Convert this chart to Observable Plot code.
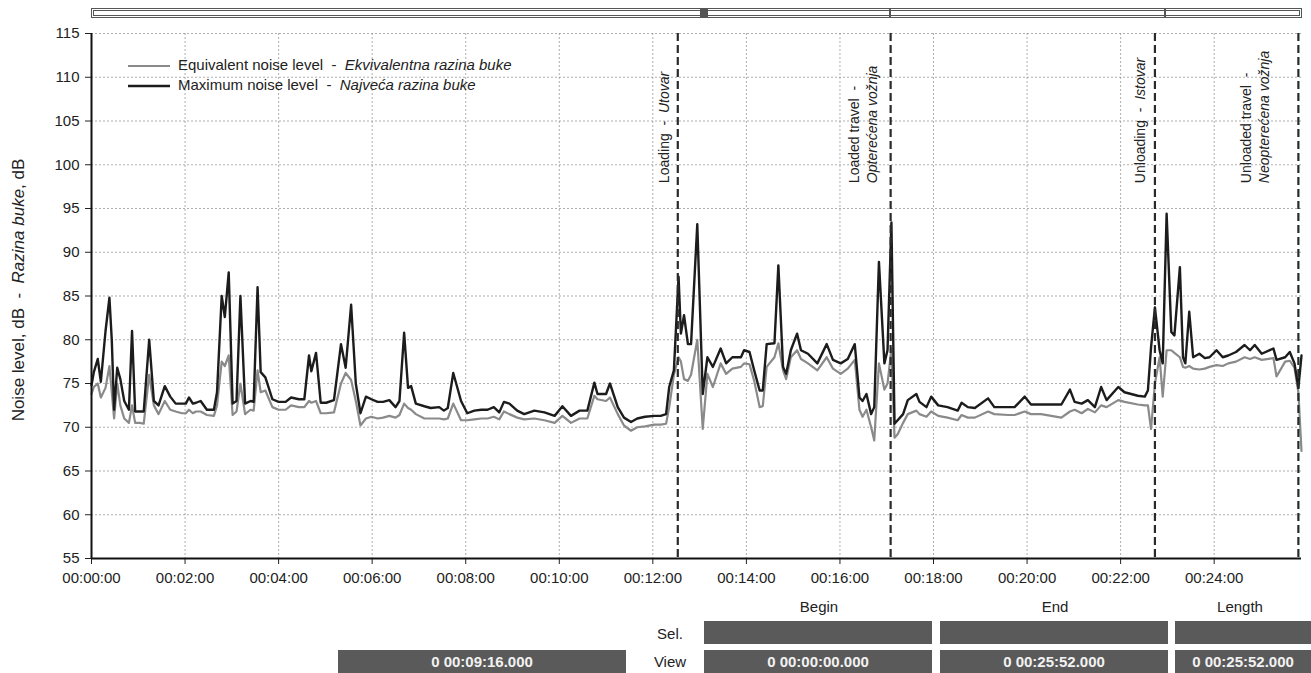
<!DOCTYPE html>
<html>
<head>
<meta charset="utf-8">
<script src="https://cdn.jsdelivr.net/npm/d3@7"></script>
<script src="https://cdn.jsdelivr.net/npm/@observablehq/plot@0.6"></script>
<style>
  body { margin: 0; background: #fff; }
  #wrap { position: relative; width: 1311px; height: 673px; overflow: hidden; background: #fff;
          font-family: "Liberation Sans Narrow", "Liberation Sans", Arial, sans-serif; color: #222; }
  .abs { position: absolute; }
  .box { position: absolute; background: #5a5a5a; color: #f2f2f2; font-weight: bold; font-size: 15px;
         display: flex; align-items: center; justify-content: center; }
  .lbl { position: absolute; font-size: 15px; transform: translate(-50%, -50%); white-space: nowrap; }
</style>
</head>
<body>
<div id="wrap">
  <div id="chart" class="abs" style="left:0;top:0"></div>
</div>
<script>
// ---- data ----
const timeSec = [
  0, 3, 8, 12, 18, 23, 26, 29, 33, 37,
  42, 48, 52, 56, 62, 67, 74, 80, 86, 94,
  101, 108, 116, 121, 125, 130, 134, 140, 148, 157,
  161, 167, 171, 176, 181, 186, 191, 197, 204, 208,
  213, 217, 223, 232, 240, 249, 256, 266, 273, 279,
  282, 288, 294, 301, 311, 320, 326, 333, 339, 345,
  352, 359, 367, 374, 382, 390, 395, 401, 406, 410,
  416, 427, 435, 446, 452, 457, 464, 474, 482, 491,
  500, 508, 516, 523, 529, 536, 546, 555, 568, 581,
  594, 604, 615, 626, 636, 645, 649, 660, 665, 675,
  683, 692, 700, 710, 722, 730, 737, 741, 747, 753,
  756, 760, 765, 769, 777, 784, 790, 797, 807, 814,
  822, 833, 837, 844, 850, 857, 861, 866, 876, 881,
  887, 891, 897, 905, 910, 919, 931, 943, 951, 961,
  970, 979, 985, 989, 994, 1000, 1004, 1010, 1017, 1021,
  1026, 1030, 1034, 1041, 1047, 1058, 1062, 1071, 1077, 1086,
  1098, 1111, 1116, 1124, 1133, 1150, 1158, 1176, 1184, 1197,
  1205, 1218, 1244, 1255, 1261, 1270, 1278, 1287, 1295, 1302,
  1317, 1325, 1342, 1351, 1355, 1359, 1364, 1370, 1374, 1379,
  1385, 1389, 1396, 1400, 1403, 1408, 1413, 1421, 1428, 1434,
  1443, 1451, 1458, 1468, 1479, 1486, 1492, 1501, 1516, 1520,
  1531, 1537, 1543, 1548, 1552
];
const maxLevel = [
  74.8, 76.3, 77.8, 75.2, 81.0, 84.8, 80.0, 72.0, 76.8, 75.5,
  73.0, 72.0, 81.0, 71.8, 71.8, 71.8, 80.0, 73.0, 72.5, 74.7,
  73.5, 72.7, 72.7, 72.7, 73.4, 72.7, 72.8, 73.0, 72.0, 72.0,
  74.0, 85.0, 82.6, 87.7, 72.7, 73.0, 85.0, 72.7, 73.0, 72.9,
  86.0, 76.3, 75.7, 73.2, 72.9, 72.9, 73.4, 73.2, 73.2, 78.2,
  76.4, 78.5, 72.8, 72.8, 73.1, 79.5, 76.8, 84.0, 75.0, 71.6,
  73.5, 73.2, 72.9, 72.9, 73.1, 72.3, 73.0, 80.8, 74.5, 74.7,
  72.7, 72.4, 72.2, 72.3, 71.9, 72.2, 76.2, 73.0, 71.6, 71.9,
  72.0, 72.0, 72.3, 71.7, 72.9, 72.7, 71.9, 71.5, 71.9, 71.7,
  71.3, 72.4, 71.3, 71.9, 71.9, 75.1, 73.8, 73.8, 75.0, 72.3,
  71.1, 70.6, 71.0, 71.2, 71.3, 71.3, 71.5, 74.6, 76.5, 87.2,
  80.7, 82.8, 79.5, 79.5, 93.2, 73.8, 78.0, 76.9, 79.0, 77.3,
  78.0, 78.0, 78.8, 78.6, 76.5, 74.2, 74.2, 79.5, 79.6, 88.5,
  76.9, 76.1, 78.8, 80.7, 78.8, 78.4, 77.3, 79.5, 77.7, 77.3,
  77.8, 79.5, 73.4, 73.0, 73.8, 71.5, 72.3, 88.9, 77.3, 78.8,
  93.4, 70.4, 70.8, 71.5, 73.1, 73.8, 72.9, 72.3, 73.5, 72.5,
  72.3, 71.9, 72.8, 72.3, 72.2, 73.3, 72.3, 72.3, 72.3, 73.5,
  72.6, 72.6, 72.6, 74.3, 72.9, 72.7, 73.1, 72.3, 74.6, 73.1,
  74.6, 74.0, 73.6, 73.5, 74.2, 79.1, 83.7, 78.8, 77.3, 94.4,
  80.9, 80.5, 88.3, 78.0, 77.3, 83.2, 78.0, 78.4, 77.9, 78.0,
  78.8, 78.0, 78.2, 78.6, 79.4, 78.8, 79.4, 78.4, 79.0, 77.7,
  78.0, 78.6, 77.3, 74.5, 78.2
];
const eqLevel = [
  73.8, 74.6, 75.0, 73.4, 74.5, 77.0, 74.0, 71.0, 75.0, 72.5,
  71.0, 70.5, 72.5, 70.5, 70.5, 70.4, 76.0, 72.5, 71.5, 73.0,
  72.0, 71.8, 71.6, 71.6, 72.0, 71.6, 71.8, 71.8, 71.4, 71.3,
  72.5, 77.5, 77.0, 78.2, 71.4, 71.8, 75.0, 71.5, 72.0, 71.9,
  76.5, 74.0, 74.2, 72.3, 72.0, 72.0, 72.5, 72.3, 72.3, 73.0,
  72.8, 73.0, 71.6, 71.6, 71.7, 75.0, 76.2, 75.4, 73.0, 70.2,
  71.0, 71.2, 71.0, 71.1, 71.3, 71.1, 71.4, 72.7, 72.2, 72.0,
  71.5, 71.0, 71.0, 71.0, 70.9, 71.0, 72.7, 70.8, 70.8, 70.9,
  71.0, 71.0, 71.2, 70.9, 71.8, 71.5, 71.1, 70.9, 71.0, 70.8,
  70.5, 71.3, 70.5, 71.0, 71.0, 73.6, 73.2, 73.0, 73.4, 71.5,
  70.2, 69.6, 70.0, 70.1, 70.3, 70.3, 70.4, 72.3, 76.0, 78.0,
  77.5, 75.5, 75.3, 76.0, 80.0, 69.8, 76.1, 74.6, 77.3, 76.1,
  76.7, 76.9, 77.3, 77.2, 75.3, 72.3, 72.4, 76.9, 78.0, 79.6,
  76.5, 75.5, 78.0, 78.8, 77.8, 77.3, 76.5, 78.0, 76.7, 76.1,
  76.7, 77.7, 72.0, 71.2, 72.0, 70.0, 68.5, 77.3, 74.3, 75.0,
  79.0, 68.8, 69.2, 70.5, 71.5, 71.9, 71.5, 71.2, 71.8, 71.3,
  71.1, 70.8, 71.4, 71.1, 71.1, 71.8, 71.5, 71.4, 71.4, 71.8,
  71.5, 71.5, 71.1, 71.8, 72.0, 71.6, 72.1, 71.7, 72.5, 72.3,
  73.1, 72.9, 72.6, 72.5, 72.5, 69.8, 75.0, 78.0, 73.5, 78.8,
  78.8, 78.5, 78.0, 76.9, 76.8, 77.0, 76.7, 76.6, 76.7, 76.9,
  77.1, 77.0, 77.3, 77.5, 78.0, 77.8, 78.0, 77.7, 77.9, 75.8,
  77.5, 77.6, 76.8, 74.0, 67.3
];
const yTicks = [55, 60, 65, 70, 75, 80, 85, 90, 95, 100, 105, 110, 115];
const xTicks = [0, 120, 240, 360, 480, 600, 720, 840, 960, 1080, 1200, 1320, 1440];
const totalSec = 1552;
const eventTimes = [752, 1025, 1364, 1548];
const eventLabels = [
  "Loading \u00a0-\u00a0 Utovar",
  "Loaded travel \u00a0-\nOpterećena vožnja",
  "Unloading \u00a0-\u00a0 Istovar",
  "Unloaded travel \u00a0-\nNeopterećena vožnja"
];
const seriesNames = ["Equivalent noise level", "Maximum noise level"];
const seriesNamesHr = ["Ekvivalentna razina buke", "Najveća razina buke"];
const yLabelEn = "Noise level, dB";
const yLabelHr = "Razina buke";
const panelHeaders = ["Begin", "End", "Length"];
const panelRows = ["Sel.", "View"];
const viewValues = ["0 00:00:00.000", "0 00:25:52.000", "0 00:25:52.000"];
const viewSpan = "0 00:09:16.000";

// ---- build ----
const FONT = '"Liberation Sans Narrow", "Liberation Sans", Arial, sans-serif';
const eqData = timeSec.map((t, i) => ({t, v: eqLevel[i]}));
const maxData = timeSec.map((t, i) => ({t, v: maxLevel[i]}));
const events = eventTimes.map((t, i) => ({t, label: eventLabels[i]}));
const pad = n => String(n).padStart(2, "0");
const fmt = s => `${pad(Math.floor(s / 3600))}:${pad(Math.floor(s % 3600 / 60))}:${pad(s % 60)}`;
const labelDx = [-14, -28, -16, -44];
const labelBottom = 97.9;

const chart = Plot.plot({
  width: 1311, height: 600,
  marginLeft: 91, marginRight: 10, marginTop: 33, marginBottom: 42,
  style: {fontFamily: FONT, fontSize: "15px", color: "#222", background: "transparent", overflow: "visible"},
  x: {domain: [0, totalSec], ticks: xTicks, tickFormat: fmt, tickSize: 6, tickPadding: 8, label: null},
  y: {domain: [55, 115], ticks: yTicks, tickSize: 6, tickPadding: 6, label: null},
  marks: [
    Plot.gridY(yTicks, {stroke: "#9a9a9a", strokeOpacity: 0.8, strokeDasharray: "2,2"}),
    Plot.gridX(xTicks, {stroke: "#9a9a9a", strokeOpacity: 0.8, strokeDasharray: "2,2"}),
    Plot.line(eqData, {x: "t", y: "v", stroke: "#8a8a8a", strokeWidth: 2.2}),
    Plot.line(maxData, {x: "t", y: "v", stroke: "#1c1c1c", strokeWidth: 2.4}),
    Plot.ruleX(eventTimes, {stroke: "#2a2a2a", strokeWidth: 2.2, strokeDasharray: "8,4"}),
    ...events.map((e, i) => Plot.text([e], {
      x: "t", y: () => labelBottom, text: "label", rotate: -90, textAnchor: "start",
      dx: labelDx[i], lineHeight: 1.25, fontSize: 14, fill: "#222", className: "evlabel"
    })),
    Plot.ruleY([55], {stroke: "#111", strokeWidth: 2}),
    Plot.ruleX([0], {stroke: "#111", strokeWidth: 2})
  ]
});
document.getElementById("chart").appendChild(chart);

// italic halves of the bilingual labels
d3.select(chart).selectAll(".evlabel text").each(function () {
  const el = d3.select(this);
  const tspans = el.selectAll("tspan");
  if (tspans.size() > 1) {
    d3.select(tspans.nodes()[1]).style("font-style", "italic");
  } else {
    const txt = el.text();
    const k = txt.lastIndexOf("-");
    el.text(txt.slice(0, k + 1) + "\u00a0 ");
    el.append("tspan").style("font-style", "italic").text(txt.slice(k + 1).trim());
  }
});

// ---- decorations (HTML) ----
const wrap = document.getElementById("wrap");
function add(html) { wrap.insertAdjacentHTML("beforeend", html); }

// top scroll bar
add(`<div class="abs" style="left:91px;top:8px;width:1211px;height:10px;box-sizing:border-box;border:3px double #555;"></div>`);
add(`<div class="abs" style="left:700px;top:8px;width:8px;height:10px;background:#555;"></div>`);
add(`<div class="abs" style="left:889px;top:8px;width:2px;height:10px;background:#555;"></div>`);
add(`<div class="abs" style="left:1164px;top:8px;width:2px;height:10px;background:#555;"></div>`);

// legend
add(`<div class="abs" style="left:128px;top:55px;font-size:15px;line-height:20px;white-space:nowrap;">
  <div><svg width="42" height="10" style="vertical-align:middle;margin-right:8px"><line x1="0" x2="42" y1="5" y2="5" stroke="#8a8a8a" stroke-width="2.2"/></svg>${seriesNames[0]} &nbsp;-&nbsp; <i>${seriesNamesHr[0]}</i></div>
  <div><svg width="42" height="10" style="vertical-align:middle;margin-right:8px"><line x1="0" x2="42" y1="5" y2="5" stroke="#1c1c1c" stroke-width="2.6"/></svg>${seriesNames[1]} &nbsp;-&nbsp; <i>${seriesNamesHr[1]}</i></div>
</div>`);

// y axis title
add(`<div class="abs" style="left:19px;top:290px;transform:translate(-50%,-50%) rotate(-90deg);font-size:17px;white-space:nowrap;">${yLabelEn} &nbsp;-&nbsp; <i>${yLabelHr}</i>, dB</div>`);

// bottom panel
const cols = [[704, 228], [940, 228], [1175, 136]];
panelHeaders.forEach((h, i) => add(`<div class="lbl" style="left:${[819, 1055, 1240][i]}px;top:606px;">${h}</div>`));
add(`<div class="lbl" style="left:670px;top:633px;">${panelRows[0]}</div>`);
add(`<div class="lbl" style="left:670px;top:661px;">${panelRows[1]}</div>`);
cols.forEach(([x, w], i) => {
  add(`<div class="box" style="left:${x}px;top:621px;width:${w}px;height:23px;"></div>`);
  add(`<div class="box" style="left:${x}px;top:650px;width:${w}px;height:23px;">${viewValues[i]}</div>`);
});
add(`<div class="box" style="left:338px;top:650px;width:288px;height:23px;">${viewSpan}</div>`);
</script>
</body>
</html>
